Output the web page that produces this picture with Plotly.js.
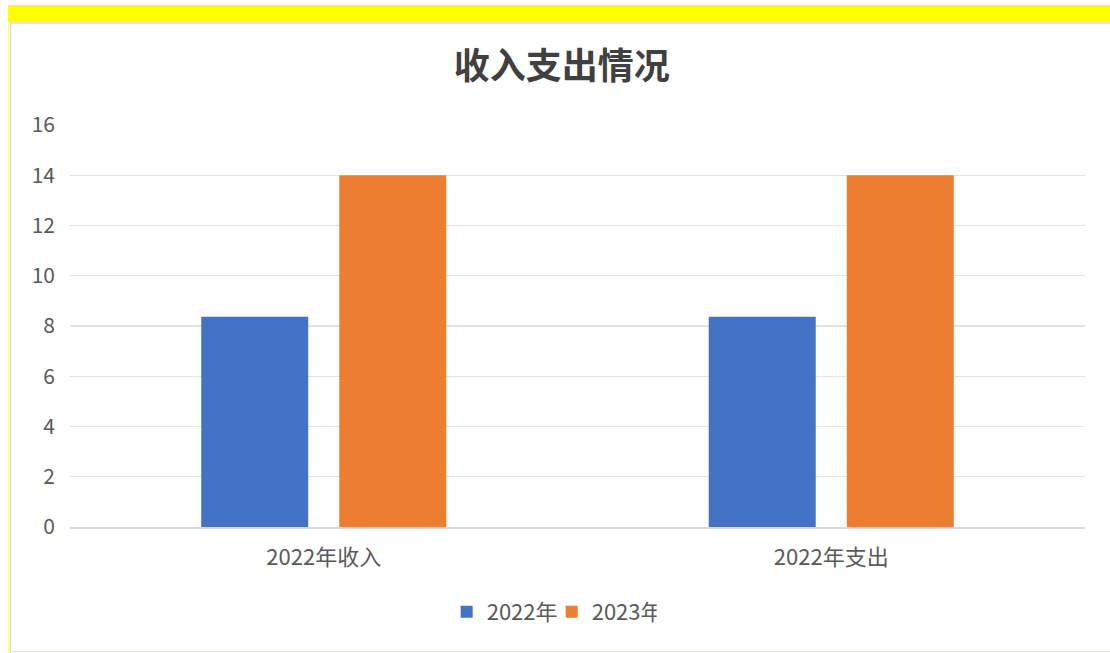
<!DOCTYPE html>
<html>
<head>
<meta charset="utf-8">
<script src="https://cdn.plot.ly/plotly-3.0.1.min.js"></script>
<style>
html,body{margin:0;padding:0;background:#fff;}
#wrap{position:relative;width:1110px;height:653px;overflow:hidden;}
#chart{position:absolute;left:0;top:0;width:1110px;height:653px;}
#topband{position:absolute;left:8px;top:5px;width:1102px;height:17px;background:#FFFF00;}
#topline{position:absolute;left:10px;top:22px;width:1100px;height:2px;background:#E6E6D8;}
#leftband{position:absolute;left:8px;top:22px;width:2px;height:631px;background:#FFFF88;}
#leftline{position:absolute;left:10px;top:22px;width:1px;height:631px;background:#DADADA;}
#bottomline{position:absolute;left:10px;top:651px;width:1100px;height:1px;background:#E6E6D8;}
</style>
</head>
<body>
<div id="wrap">
<div id="chart"></div>
<div id="topband"></div>
<div id="topline"></div>
<div id="leftband"></div>
<div id="leftline"></div>
<div id="bottomline"></div>
</div>
<script>
const categories = ["2022年收入", "2022年支出"];
const seriesNames = ["2022年", "2023年"];
const values2022 = [8.37, 8.37];
const values2023 = [14, 14];
const yTicks = [0, 2, 4, 6, 8, 10, 12, 14, 16];

const font = '"Noto Sans CJK SC", "Noto Sans", sans-serif';

const traces = [
  {type: 'bar', name: seriesNames[0], x: categories, y: values2022, marker: {color: '#4472C4'}, hoverinfo: 'x+y'},
  {type: 'bar', name: seriesNames[1], x: categories, y: values2023, marker: {color: '#ED7D31'}, hoverinfo: 'x+y'}
];

const layout = {
  width: 1110, height: 653,
  paper_bgcolor: '#FFFFFF', plot_bgcolor: '#FFFFFF',
  margin: {l: 70, r: 25, t: 125, b: 126},
  barmode: 'group',
  bargap: 0.456,
  bargroupgap: 0.225,
  font: {family: font, color: '#595959', size: 21},
  title: {
    text: '<b>收入支出情况</b>',
    font: {family: font, size: 36, color: '#404040'},
    x: 0.506, xref: 'container', xanchor: 'center',
    y: 1 - 66/653, yref: 'container', yanchor: 'middle'
  },
  xaxis: {
    type: 'category',
    showgrid: false,
    showline: true, linecolor: '#D9D9D9', linewidth: 1.5,
    ticks: '',
    tickfont: {family: font, size: 22, color: '#595959'},
    ticklabelstandoff: 10,
    zeroline: false
  },
  yaxis: {
    range: [0, 16],
    tickvals: yTicks,
    ticktext: yTicks.map(String),
    showgrid: true, gridcolor: '#E3E3E3', gridwidth: 1.2,
    zeroline: false,
    showline: false,
    ticks: '',
    tickfont: {family: font, size: 21, color: '#595959'},
    ticklabelstandoff: 14
  },
  legend: {
    orientation: 'h',
    x: 0.497, xref: 'container', xanchor: 'center',
    y: 1 - 612/653, yref: 'container', yanchor: 'middle',
    font: {family: font, size: 22, color: '#595959'},
    itemwidth: 30,
    entrywidth: 60, entrywidthmode: 'pixels',
    traceorder: 'normal'
  },
  showlegend: true
};

Plotly.newPlot('chart', traces, layout, {displayModeBar: false, staticPlot: true});
</script>
</body>
</html>
